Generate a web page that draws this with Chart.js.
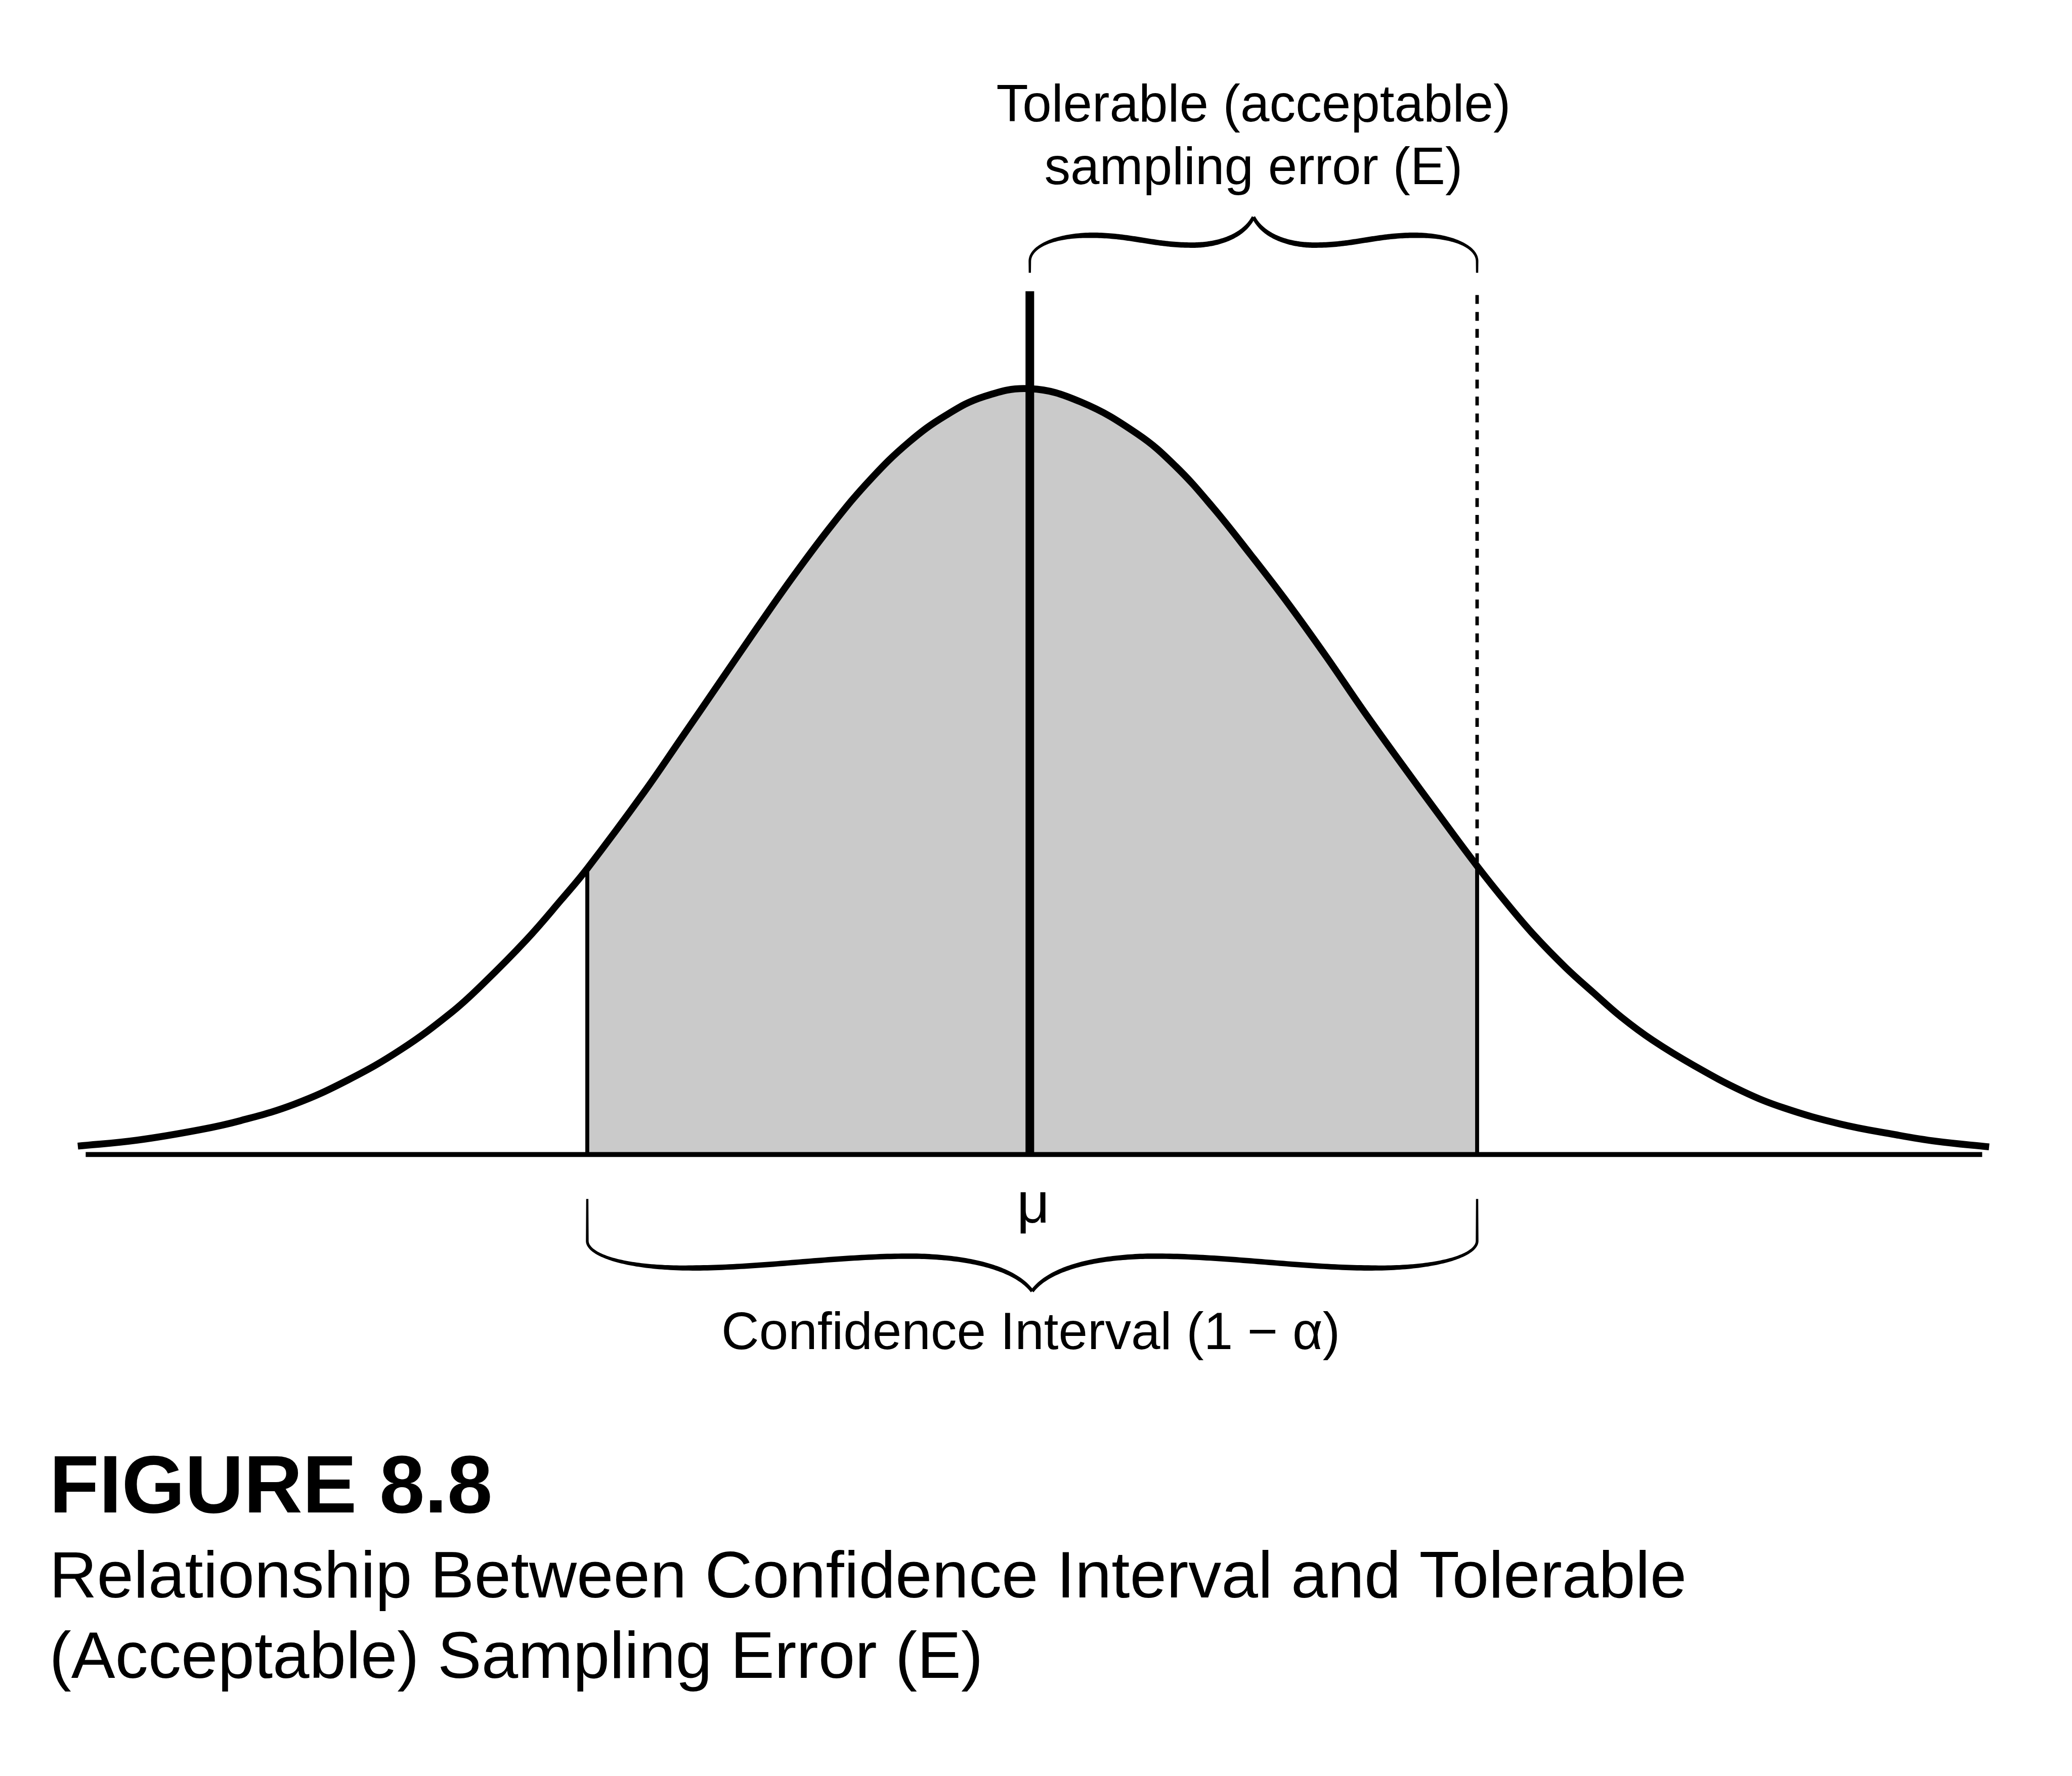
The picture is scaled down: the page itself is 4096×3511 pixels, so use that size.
<!DOCTYPE html>
<html>
<head>
<meta charset="utf-8">
<script src="https://cdn.jsdelivr.net/npm/chart.js@4.4.1/dist/chart.umd.min.js"></script>
<style>
html,body{margin:0;padding:0;background:#ffffff;overflow:hidden}
canvas{display:block}
</style>
</head>
<body>
<canvas id="c" width="4096" height="3511"></canvas>
<script>
// ---------- values ----------
// x: distance from the mean in standard deviations, y: density height of the bell curve
const curveX = [-3.016,-2.828,-2.630,-2.500,-2.331,-2.161,-1.992,-1.833,-1.733,-1.594,-1.484,-1.402,
  -1.222,-1.102,-0.983,-0.863,-0.744,-0.623,-0.505,-0.384,-0.266,-0.145,0,0.161,0.341,0.461,0.580,
  0.700,0.819,0.939,1.058,1.178,1.297,1.417,1.513,1.600,1.698,1.786,1.875,1.973,2.105,2.258,2.389,
  2.566,2.741,2.872,3.039];
const curveY = [0.0044,0.0075,0.0129,0.0177,0.0262,0.0388,0.0548,0.0740,0.0889,0.1121,0.1329,0.1491,
  0.1889,0.2175,0.2460,0.2748,0.3026,0.3290,0.3519,0.3712,0.3853,0.3951,0.3992,0.3923,0.3756,0.3589,
  0.3373,0.3126,0.2871,0.2596,0.2311,0.2036,0.1769,0.1504,0.1306,0.1139,0.0974,0.0843,0.0715,0.0596,
  0.0463,0.0330,0.0243,0.0160,0.0104,0.0069,0.0040];
const mu = 0;
const ciLower = -1.402;          // lower limit of the confidence interval
const ciUpper = 1.417;           // upper limit (= mu + E)
const meanLineTop = 0.450;
const toleranceLineTop = 0.448;
const axisRange = [-2.991, 3.017];

const toleranceLabel = ['Tolerable (acceptable)', 'sampling error (E)'];
const muLabel = 'μ';
const ciLabel = 'Confidence Interval (1 − α)';
const figureTitle = 'FIGURE 8.8';
const figureCaption = ['Relationship Between Confidence Interval and Tolerable', '(Acceptable) Sampling Error (E)'];

// ---------- layout (reference pixels, drawn at S) ----------
const S = 0.975;
const CW = 4096, CH = 3511;
const REF_MU_X = 2088, REF_PX_PER_SD = 640, REF_BASE_Y = 2341, REF_PX_PER_DENS = 3890;
const xMin = -REF_MU_X / REF_PX_PER_SD;
const xMax = (CW / S - REF_MU_X) / REF_PX_PER_SD;
const yMax = REF_BASE_Y / REF_PX_PER_DENS;
const yMin = -(CH / S - REF_BASE_Y) / REF_PX_PER_DENS;
const FONT = '"Liberation Sans", Arial, Helvetica, sans-serif';
const GRAY = '#cacaca';

const points = curveX.map((x, i) => ({x: x, y: curveY[i]}));
const shadedPoints = points.filter(p => p.x >= ciLower - 1e-9 && p.x <= ciUpper + 1e-9);
const heightAt = x => {
  for (let i = 0; i < curveX.length - 1; i++) {
    if (x >= curveX[i] && x <= curveX[i + 1]) {
      const t = (x - curveX[i]) / (curveX[i + 1] - curveX[i]);
      return curveY[i] + t * (curveY[i + 1] - curveY[i]);
    }
  }
  return 0;
};

// brace half-shapes: cubic segments in reference px, (dx from the end, dv toward the tip); T = half width
const topBraceHalf = T => [
  [[0,0],[0,8],[0,15],[0,23]],
  [[0,23],[0,53],[50,76],[125,76]],
  [[125,76],[205,76],[250,56],[330,56]],
  [[330,56],[380,56],[T-20,73],[T,113]]
];
const bottomBraceHalf = T => [
  [[0,0],[0,28],[0,57],[0,85]],
  [[0,85],[0,114],[77,140],[206,140]],
  [[206,140],[356,140],[503,116],[653,116]],
  [[653,116],[753,116],[T-40,134],[T,187]]
];
// stroke width profile along each half (fraction of length -> reference px)
const braceProfU = [0, 0.12, 0.32, 0.75, 0.92, 1];
const braceProfW = [4.5, 6, 11, 11, 9, 7];

function profileAt(u) {
  for (let i = 0; i < braceProfU.length - 1; i++) {
    if (u <= braceProfU[i + 1]) {
      const t = (u - braceProfU[i]) / (braceProfU[i + 1] - braceProfU[i]);
      return braceProfW[i] + t * (braceProfW[i + 1] - braceProfW[i]);
    }
  }
  return braceProfW[braceProfW.length - 1];
}
function cubicPt(a, b, c, d, t) {
  const m = 1 - t;
  return [m*m*m*a[0] + 3*m*m*t*b[0] + 3*m*t*t*c[0] + t*t*t*d[0],
          m*m*m*a[1] + 3*m*m*t*b[1] + 3*m*t*t*c[1] + t*t*t*d[1]];
}
function drawBrace(ctx, xL, xR, yEnd, dir, halfFn) {
  const Tref = (xR - xL) / 2 / S;
  const segs = halfFn(Tref);
  const maps = [p => [xL + p[0] * S, yEnd + dir * p[1] * S],
                p => [xR - p[0] * S, yEnd + dir * p[1] * S]];
  ctx.save();
  ctx.fillStyle = '#000';
  maps.forEach(map => {
    const pts = [];
    segs.forEach((s, si) => {
      const q = s.map(map);
      for (let k = (si === 0 ? 0 : 1); k <= 60; k++) pts.push(cubicPt(q[0], q[1], q[2], q[3], k / 60));
    });
    const len = [0];
    for (let i = 1; i < pts.length; i++) {
      len.push(len[i - 1] + Math.hypot(pts[i][0] - pts[i - 1][0], pts[i][1] - pts[i - 1][1]));
    }
    const total = len[len.length - 1];
    const A = [], B = [];
    for (let i = 0; i < pts.length; i++) {
      const p0 = pts[Math.max(i - 1, 0)], p1 = pts[Math.min(i + 1, pts.length - 1)];
      let tx = p1[0] - p0[0], ty = p1[1] - p0[1];
      const l = Math.hypot(tx, ty) || 1;
      tx /= l; ty /= l;
      const w = profileAt(len[i] / total) * S / 2;
      A.push([pts[i][0] - ty * w, pts[i][1] + tx * w]);
      B.push([pts[i][0] + ty * w, pts[i][1] - tx * w]);
    }
    ctx.beginPath();
    ctx.moveTo(A[0][0], A[0][1]);
    for (let i = 1; i < A.length; i++) ctx.lineTo(A[i][0], A[i][1]);
    for (let i = B.length - 1; i >= 0; i--) ctx.lineTo(B[i][0], B[i][1]);
    ctx.closePath();
    ctx.fill();
  });
  ctx.restore();
}

const annotations = {
  id: 'annotations',
  afterDatasetsDraw(chart) {
    const ctx = chart.ctx;
    const xs = chart.scales.x;
    const xMu = xs.getPixelForValue(mu);
    const xLo = xs.getPixelForValue(ciLower);
    const xHi = xs.getPixelForValue(ciUpper);

    drawBrace(ctx, xMu, xHi, 553 * S, -1, topBraceHalf);
    drawBrace(ctx, xLo, xHi, 2431 * S, 1, bottomBraceHalf);

    ctx.save();
    ctx.fillStyle = '#000';
    ctx.textBaseline = 'alphabetic';
    ctx.textAlign = 'center';
    ctx.font = (106 * S) + 'px ' + FONT;
    const cTop = (xMu + xHi) / 2;
    ctx.fillText(toleranceLabel[0], cTop, 246 * S);
    ctx.fillText(toleranceLabel[1], cTop, 373 * S);
    ctx.fillText(ciLabel, (xLo + xHi) / 2 - 3 * S, 2735 * S);
    ctx.font = (116 * S) + 'px ' + FONT;
    ctx.fillText(muLabel, xMu + 7 * S, 2479 * S);

    ctx.textAlign = 'left';
    ctx.font = 'bold ' + (165 * S) + 'px ' + FONT;
    ctx.fillText(figureTitle, 100 * S, 3067 * S);
    ctx.font = (133.6 * S) + 'px ' + FONT;
    ctx.fillText(figureCaption[0], 100 * S, 3239 * S);
    ctx.fillText(figureCaption[1], 100 * S, 3402 * S);
    ctx.restore();
  }
};

function build() {
  const black = '#000000';
  new Chart(document.getElementById('c'), {
    type: 'line',
    data: {
      datasets: [
        { label: 'interval', data: shadedPoints, fill: 'origin', backgroundColor: GRAY,
          borderColor: 'rgba(0,0,0,0)', borderWidth: 0, tension: 0.4, order: 10 },
        { label: 'lower', data: [{x: ciLower, y: 0}, {x: ciLower, y: heightAt(ciLower)}],
          borderColor: black, borderWidth: 8 * S, fill: false, order: 9 },
        { label: 'upper', data: [{x: ciUpper, y: 0}, {x: ciUpper, y: heightAt(ciUpper)}],
          borderColor: black, borderWidth: 8 * S, fill: false, order: 8 },
        { label: 'tolerable', data: [{x: ciUpper, y: toleranceLineTop}, {x: ciUpper, y: heightAt(ciUpper)}],
          borderColor: black, borderWidth: 7 * S, borderDash: [18 * S, 16.3 * S], fill: false, order: 7 },
        { label: 'curve', data: points, borderColor: black, borderWidth: 14 * S, fill: false,
          tension: 0.4, borderJoinStyle: 'round', order: 5 },
        { label: 'axis', data: [{x: axisRange[0], y: 0}, {x: axisRange[1], y: 0}],
          borderColor: black, borderWidth: 10 * S, fill: false, order: 3 },
        { label: 'mean', data: [{x: mu, y: 0}, {x: mu, y: meanLineTop}],
          borderColor: black, borderWidth: 17.5 * S, fill: false, order: 1 }
      ]
    },
    options: {
      responsive: false,
      maintainAspectRatio: false,
      animation: false,
      devicePixelRatio: 1,
      events: [],
      layout: { padding: 0 },
      elements: { point: { radius: 0, hoverRadius: 0 } },
      plugins: { legend: { display: false }, tooltip: { enabled: false }, title: { display: false } },
      scales: {
        x: { type: 'linear', min: xMin, max: xMax, display: false },
        y: { type: 'linear', min: yMin, max: yMax, display: false }
      }
    },
    plugins: [annotations]
  });
}

if (document.fonts && document.fonts.load) {
  Promise.all([
    document.fonts.load('100px "Liberation Sans"'),
    document.fonts.load('bold 100px "Liberation Sans"')
  ]).then(build, build);
} else {
  build();
}
</script>
</body>
</html>
